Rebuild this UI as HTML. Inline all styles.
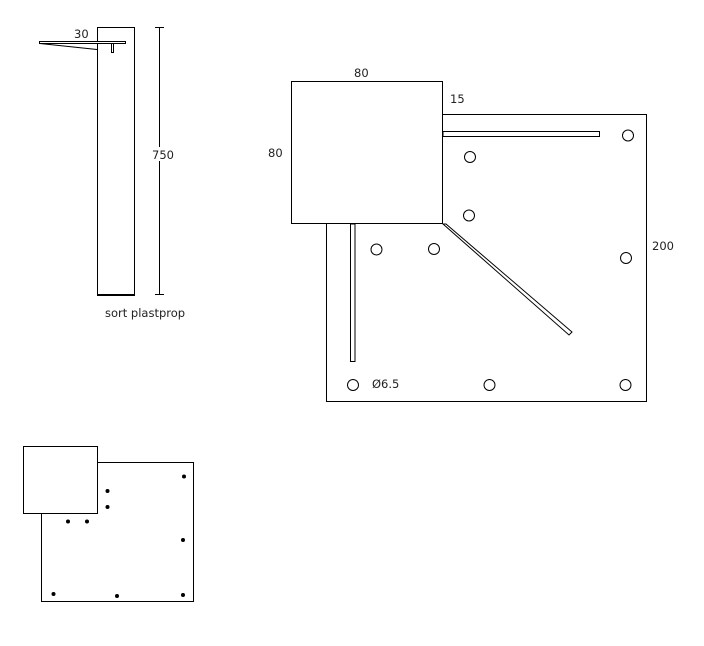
<!DOCTYPE html>
<html><head><style>html,body{margin:0;padding:0;background:#fff}svg{display:block}text{font-family:"DejaVu Sans","Liberation Sans",sans-serif;font-size:11.5px;fill:#222}</style></head>
<body>
<svg width="704" height="646" viewBox="0 0 704 646" xmlns="http://www.w3.org/2000/svg" fill="none" stroke="#000" stroke-width="1">
<rect x="97.5" y="27.5" width="37" height="268"/>
<line x1="97" y1="295" x2="135" y2="295" stroke-width="2"/>
<rect x="39.5" y="41.5" width="86" height="2" fill="#fff"/>
<line x1="40" y1="43.5" x2="97" y2="49.5"/>
<rect x="111.5" y="43.5" width="2" height="9"/>
<line x1="159.5" y1="27" x2="159.5" y2="295"/>
<line x1="155" y1="27.5" x2="164" y2="27.5"/>
<line x1="155" y1="294.5" x2="164" y2="294.5"/>
<rect x="150" y="147" width="22" height="14" fill="#fff" stroke="none"/>
<text x="152" y="159" stroke="none">750</text>
<text x="74" y="38" stroke="none">30</text>
<text x="105" y="317" stroke="none">sort plastprop</text>
<rect x="326.5" y="114.5" width="320" height="287"/>
<rect x="291.5" y="81.5" width="151" height="142" fill="#fff"/>
<rect x="443" y="131.5" width="156.5" height="5"/>
<rect x="350.5" y="224" width="4.5" height="137.5"/>
<polygon points="443,224 446,224 572,332 569,335" stroke-linejoin="miter"/>
<g>
<circle cx="628" cy="135.5" r="5.5"/><circle cx="470" cy="157" r="5.5"/><circle cx="469" cy="215.5" r="5.5"/>
<circle cx="376.5" cy="249.5" r="5.5"/><circle cx="434" cy="249" r="5.5"/><circle cx="626" cy="258" r="5.5"/>
<circle cx="353" cy="385" r="5.5"/><circle cx="489.5" cy="385" r="5.5"/><circle cx="625.5" cy="385" r="5.5"/>
</g>
<text x="354" y="77" stroke="none">80</text>
<text x="268" y="157" stroke="none">80</text>
<text x="450" y="103" stroke="none">15</text>
<text x="652" y="250" stroke="none">200</text>
<text x="372" y="388" stroke="none">Ø6.5</text>
<rect x="41.5" y="462.5" width="152" height="139"/>
<rect x="23.5" y="446.5" width="74" height="67" fill="#fff"/>
<g fill="#000" stroke="none">
<circle cx="184" cy="476.5" r="2"/><circle cx="107.5" cy="491" r="2"/><circle cx="107.5" cy="507" r="2"/>
<circle cx="68" cy="521.5" r="2"/><circle cx="87" cy="521.5" r="2"/><circle cx="183" cy="540" r="2"/>
<circle cx="53.5" cy="594" r="2"/><circle cx="117" cy="596" r="2"/><circle cx="183" cy="595" r="2"/>
</g>
</svg>
</body></html>
